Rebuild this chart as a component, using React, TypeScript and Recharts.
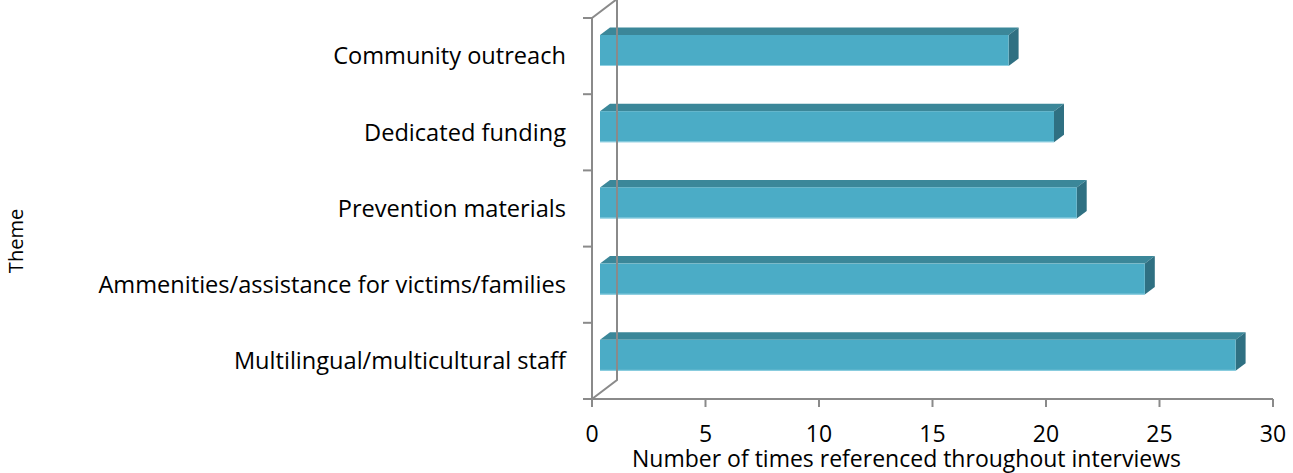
import React from 'react';
import { BarChart, Bar, XAxis, YAxis, ReferenceLine } from 'recharts';

const themes = [
  'Community outreach',
  'Dedicated funding',
  'Prevention materials',
  'Ammenities/assistance for victims/families',
  'Multilingual/multicultural staff',
];
const mentions = [18, 20, 21, 24, 28];
const xTicks = [0, 5, 10, 15, 20, 25, 30];

const chartData = themes.map((theme, i) => ({ theme, count: mentions[i] }));

const FONT = '"Open Sans", Lato, sans-serif';
const AXIS_GRAY = '#8a8a8a';

// depth of the back wall and of each bar, in pixels
const WALL_DX = 25;
const WALL_DY = -19;
const BAR_SHIFT_X = 8;
const BAR_SHIFT_Y = -6;
const BAR_DX = 10;
const BAR_DY = -7.5;

const Bar3D = (props: any) => {
  const { x, y, width, height } = props;
  if (width == null || height == null) return null;
  const fx = x + BAR_SHIFT_X;
  const fy = y + BAR_SHIFT_Y;
  const r = fx + width;
  return (
    <g>
      <polygon
        points={`${fx},${fy} ${fx + BAR_DX},${fy + BAR_DY} ${r + BAR_DX},${fy + BAR_DY} ${r},${fy}`}
        fill="#3b8799"
      />
      <polygon
        points={`${r},${fy} ${r + BAR_DX},${fy + BAR_DY} ${r + BAR_DX},${fy + height + BAR_DY} ${r},${fy + height}`}
        fill="#2f7082"
      />
      <rect x={fx} y={fy} width={width} height={height} fill="#4bacc6" />
      <line x1={fx} x2={r} y1={fy + height - 0.5} y2={fy + height - 0.5} stroke="#8fd0e2" strokeWidth={1} />
    </g>
  );
};

// back wall outline plus the category boundary ticks on the front axis
const Wall = (props: any) => {
  const { x1 } = props;
  const top = Math.min(props.y1, props.y2);
  const bottom = Math.max(props.y1, props.y2);
  const step = (bottom - top) / themes.length;
  const bx = x1 + WALL_DX;
  return (
    <g stroke={AXIS_GRAY} strokeWidth={2} fill="none">
      <polyline points={`${x1},${top} ${bx},${top + WALL_DY} ${bx},${bottom + WALL_DY} ${x1},${bottom}`} strokeLinejoin="miter" />
      <line x1={x1} x2={x1} y1={top} y2={bottom} />
      {Array.from({ length: themes.length + 1 }, (_, i) => (
        <line key={i} x1={x1 - 9} x2={x1} y1={top + i * step} y2={top + i * step} />
      ))}
    </g>
  );
};

const App = () => {
  return (
    <div style={{ position: 'absolute', left: 0, top: 0, width: 1293, height: 473, background: '#fff', fontFamily: FONT }}>
      <BarChart
        width={1293}
        height={473}
        data={chartData}
        layout="vertical"
        margin={{ top: 18, right: 20, bottom: 0, left: 0 }}
      >
        <XAxis
          type="number"
          domain={[0, 30]}
          ticks={xTicks}
          interval={0}
          height={74}
          axisLine={{ stroke: AXIS_GRAY, strokeWidth: 2 }}
          tickLine={{ stroke: AXIS_GRAY, strokeWidth: 2 }}
          tickSize={8}
          tickMargin={19}
          tick={{ fontSize: 23, fill: '#000', fontFamily: FONT }}
          label={{
            content: (p: any) => {
              const vb = p.viewBox || {};
              return (
                <text x={vb.x + vb.width / 2 - 26} y={vb.y + 68} textAnchor="middle" fontSize={23} fontFamily={FONT} fill="#000">
                  Number of times referenced throughout interviews
                </text>
              );
            },
          }}
        />
        <YAxis
          type="category"
          dataKey="theme"
          width={592}
          axisLine={false}
          tickLine={false}
          tickSize={9}
          tickMargin={17}
          interval={0}
          tick={{ fontSize: 23.6, fill: '#000', fontFamily: FONT }}
          label={{
            content: () => (
              <text x={0} y={0} transform="translate(23,241) rotate(-90)" textAnchor="middle" fontSize={20} fontFamily={FONT} fill="#000">
                Theme
              </text>
            ),
          }}
        />
        <ReferenceLine x={0} shape={<Wall />} />
        <Bar dataKey="count" barSize={31} shape={<Bar3D />} isAnimationActive={false} />
      </BarChart>
    </div>
  );
};

export default App;
